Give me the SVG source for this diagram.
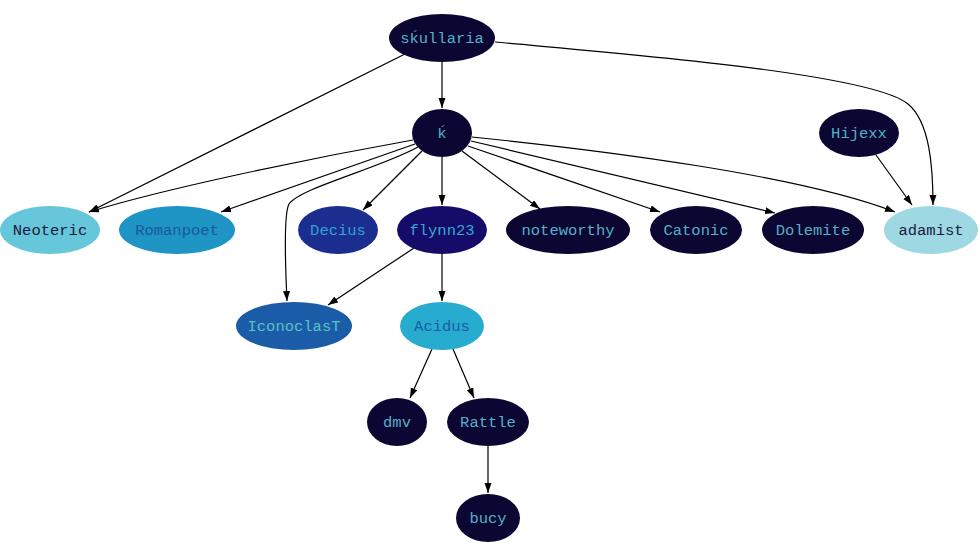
<svg xmlns="http://www.w3.org/2000/svg" width="980" height="552" viewBox="0 0 980 552">
<defs>
<marker id="arr" markerWidth="10" markerHeight="8" refX="10" refY="3.5" orient="auto" markerUnits="userSpaceOnUse">
<path d="M0,0 L10,3.5 L0,7 z" fill="#000"/>
</marker>
<style>
text{font-family:"Liberation Mono","DejaVu Sans Mono",monospace;font-size:15.5px;text-anchor:middle;dominant-baseline:central}
.e path{fill:none;stroke:#000;stroke-width:1.2;marker-end:url(#arr)}
.dk ellipse{fill:#0c0632}
.dk text{fill:#55b0c8}
</style>
</defs>
<rect width="980" height="552" fill="#fff"/>
<g class="e" id="edges">
<path d="M442,62 L442,108"/>
<path d="M405,54 L89,212"/>
<path d="M495,42 C600,52 870,72 908,104 C930,122 933,168 933,205"/>
<path d="M413,140 C300,160 160,190 89,212"/>
<path d="M415,144 L221,212"/>
<path d="M418,147 C380,168 300,188 289,204 C283,215 286,280 287,301"/>
<path d="M422,151 L363,210"/>
<path d="M442,157 L442,205"/>
<path d="M462,151 L540,209"/>
<path d="M468,146 L660,212"/>
<path d="M471,141 L775,213"/>
<path d="M472,137 C600,150 800,175 895,212"/>
<path d="M876,155 L912,205"/>
<path d="M414,248 L328,305"/>
<path d="M442,254 L442,301"/>
<path d="M432,349 L410,398"/>
<path d="M453,349 L474,398"/>
<path d="M488,446 L488,493"/>
</g>
<g id="skullaria" class="dk"><ellipse cx="442" cy="38" rx="53" ry="24"/><text x="442" y="39">sḱullaria</text></g>
<g id="k" class="dk"><ellipse cx="442" cy="133" rx="30" ry="24"/><text x="442" y="134">ḱ</text></g>
<g id="Hijexx" class="dk"><ellipse cx="859" cy="133" rx="40" ry="24"/><text x="859" y="134">Hijexx</text></g>
<g id="Neoteric"><ellipse cx="50" cy="230" rx="50" ry="24" fill="#66c7da"/><text x="50" y="231" fill="#1a1a40">Neoteric</text></g>
<g id="Romanpoet"><ellipse cx="177" cy="230" rx="58" ry="24" fill="#1e95c4"/><text x="177" y="231" fill="#1a5898">Romanpoet</text></g>
<g id="Decius"><ellipse cx="338" cy="230" rx="40" ry="24" fill="#1b2e90"/><text x="338" y="231" fill="#30a2d2">Decius</text></g>
<g id="flynn23"><ellipse cx="442" cy="230" rx="45" ry="24" fill="#140c68"/><text x="442" y="231" fill="#36a8d2">flynn23</text></g>
<g id="noteworthy" class="dk"><ellipse cx="568" cy="230" rx="62" ry="24"/><text x="568" y="231">noteworthy</text></g>
<g id="Catonic" class="dk"><ellipse cx="696" cy="230" rx="46" ry="24"/><text x="696" y="231">Catonic</text></g>
<g id="Dolemite" class="dk"><ellipse cx="813" cy="230" rx="51" ry="24"/><text x="813" y="231">Dolemite</text></g>
<g id="adamist"><ellipse cx="931" cy="230" rx="47" ry="24" fill="#9dd8e3"/><text x="931" y="231" fill="#1a1a38">adamist</text></g>
<g id="IconoclasT"><ellipse cx="294" cy="326" rx="58" ry="24" fill="#1b5ca8"/><text x="294" y="327" fill="#5cc0c0">IconoclasT</text></g>
<g id="Acidus"><ellipse cx="442" cy="326" rx="42" ry="24" fill="#27abcf"/><text x="442" y="327" fill="#1b5ca8">Acidus</text></g>
<g id="dmv" class="dk"><ellipse cx="397" cy="422" rx="30" ry="24"/><text x="397" y="423">dmv</text></g>
<g id="Rattle" class="dk"><ellipse cx="488" cy="422" rx="41" ry="24"/><text x="488" y="423">Rattle</text></g>
<g id="bucy" class="dk"><ellipse cx="488" cy="518" rx="32" ry="24"/><text x="488" y="519">bucy</text></g>
</svg>
